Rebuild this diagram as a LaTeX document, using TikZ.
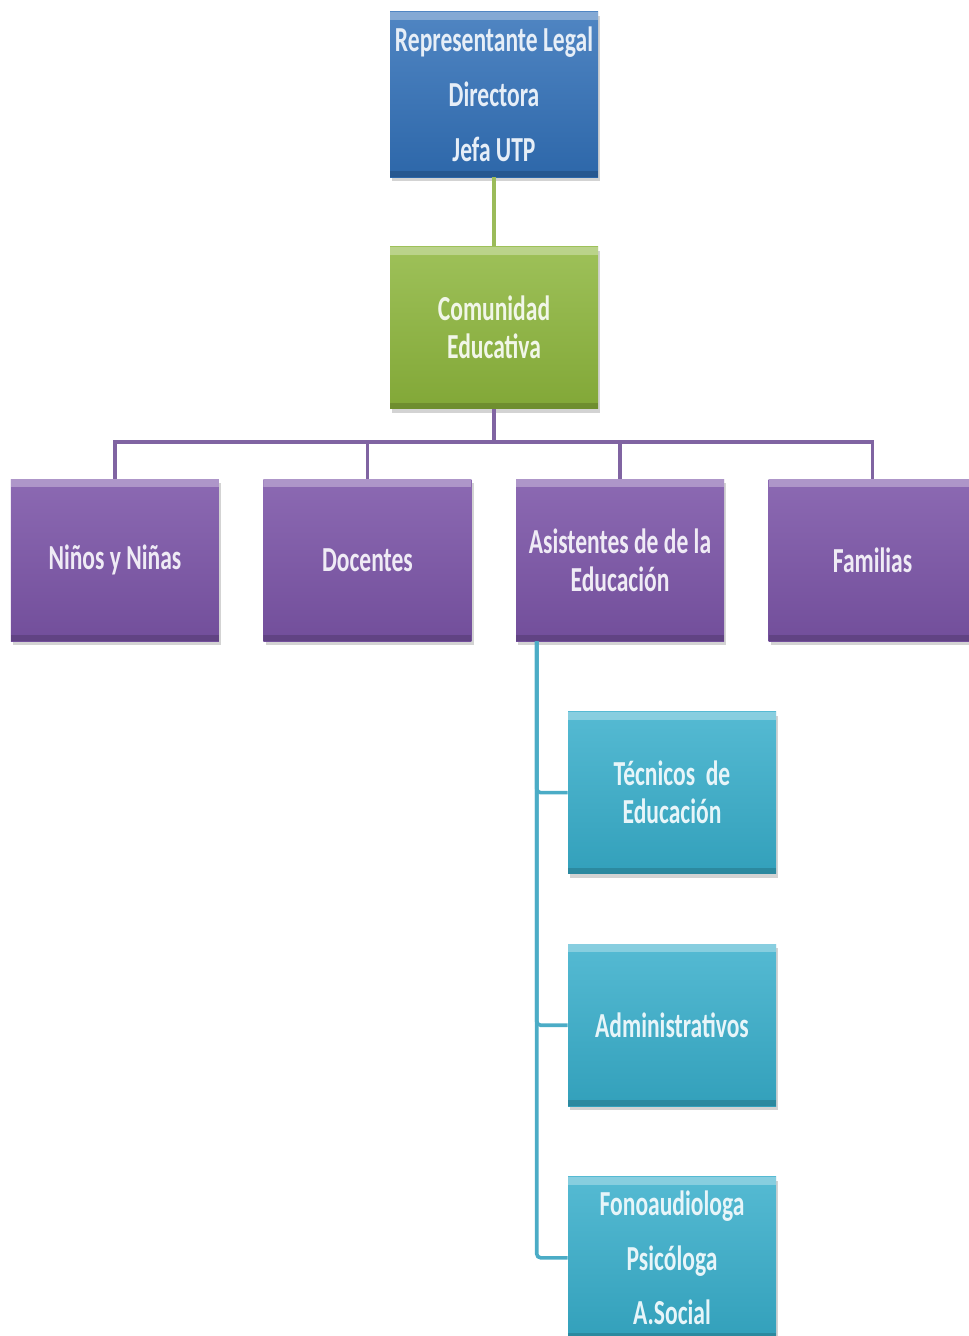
\documentclass[tikz,border=0pt]{standalone}
\usepackage{fontspec}
\newfontfamily\boxfont[FakeStretch=0.67]{Carlito}
\usetikzlibrary{positioning}
\usetikzlibrary{shadows}
\usetikzlibrary{calc}
\definecolor{repblue}{HTML}{3170B8}
\definecolor{comgreen}{HTML}{8DB63C}
\definecolor{grppurple}{HTML}{7C55A8}
\definecolor{subcyan}{HTML}{37AECB}
\definecolor{greenline}{HTML}{9BBB59}
\definecolor{purpleline}{HTML}{8064A2}
\definecolor{cyanline}{HTML}{4BACC6}

\begin{document}
\begin{tikzpicture}
  [
    node distance=1.75cm,
    every node/.style={font=\boxfont\bfseries\fontsize{25}{27}\selectfont},
    align=center
  ]
      \tikzset{
        base/.style = {rectangle, minimum width=5.2cm, minimum height=4.05cm,
                       inner sep=0pt, text centered,
                       drop shadow={shadow xshift=0.06cm, shadow yshift=-0.1cm, opacity=0.35},
                       path picture={
                         \fill[white, opacity=0.3] (path picture bounding box.north west) rectangle ([yshift=-0.2cm]path picture bounding box.north east);
                         \fill[black, opacity=0.15] (path picture bounding box.south west) rectangle ([yshift=0.15cm]path picture bounding box.south east);
                       }},
        repstyle/.style = {base, minimum height=4.125cm, top color=repblue!85!white, bottom color=repblue!92!black, text=white!88!repblue},
        comstyle/.style = {base, top color=comgreen!85!white, bottom color=comgreen!92!black, text=white!88!comgreen},
        grpstyle/.style = {base, top color=grppurple!88!white, bottom color=grppurple!92!black, text=white!88!grppurple},
        substyle/.style = {base, top color=subcyan!85!white, bottom color=subcyan!92!black, text=white!88!subcyan},
        link/.style = {line width=0.09cm},
    }
    \useasboundingbox (0,0) rectangle (24.225,-33.4);

    \node (rep) [repstyle] at (12.35,-2.3625) {Representante Legal\\[12pt]Directora\\[12pt]Jefa UTP};
    \node (com) [comstyle, below=1.725cm of rep] {Comunidad\\Educativa};

    \node (asistentes) [grpstyle, below=1.75cm of com, xshift=3.15cm] {Asistentes de de la\\Educación};
    \node (docentes) [grpstyle, left=1.1cm of asistentes] {Docentes};
    \node (ninos) [grpstyle, left=1.1cm of docentes] {Niños y Niñas};
    \node (familias) [grpstyle, right=1.1cm of asistentes] {Familias};

    \node (tecnicos) [substyle, below=1.75cm of asistentes, xshift=1.3cm] {Técnicos~ de\\Educación};
    \node (admin) [substyle, below=1.75cm of tecnicos] {Administrativos};
    \node (fono) [substyle, below=1.75cm of admin] {Fonoaudiologa\\[12pt]Psicóloga\\[12pt]A.Social};

    \draw[link, greenline] (rep) -- (com);

    \coordinate (bus) at ($(com.south)+(0,-0.825)$);
    \draw[link, purpleline] (com.south) -- (bus);
    \foreach \grp in {ninos, docentes, asistentes, familias}
      \draw[link, purpleline] (bus) -| (\grp.north);

    \coordinate (trunk) at ([xshift=0.525cm]asistentes.south west);
    \foreach \sub in {tecnicos, admin, fono}
      \draw[link, cyanline, rounded corners=0.1cm] (trunk) |- (\sub.west);
\end{tikzpicture}
\end{document}
